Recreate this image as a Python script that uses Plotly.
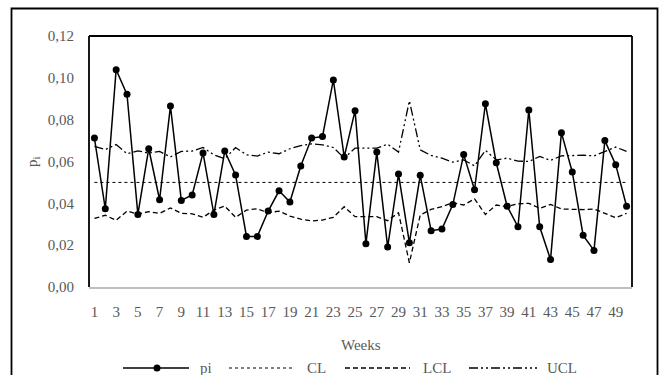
import plotly.graph_objects as go

weeks = list(range(1, 51))
pi = [0.0712, 0.0374, 0.1039, 0.0921, 0.0347, 0.0661, 0.0417, 0.0865, 0.0414, 0.0440,
      0.0641, 0.0347, 0.0650, 0.0535, 0.0242, 0.0242, 0.0363, 0.0460, 0.0406, 0.0578,
      0.0712, 0.0719, 0.0990, 0.0622, 0.0843, 0.0207, 0.0645, 0.0191, 0.0540, 0.0212,
      0.0534, 0.0269, 0.0277, 0.0394, 0.0633, 0.0465, 0.0876, 0.0594, 0.0386, 0.0288,
      0.0846, 0.0288, 0.0131, 0.0738, 0.0550, 0.0247, 0.0175, 0.0700, 0.0585, 0.0386]
cl = [0.05] * 50
lcl = [0.0328, 0.0343, 0.0319, 0.0363, 0.0349, 0.0360, 0.0352, 0.0378, 0.0352, 0.0350,
       0.0333, 0.0368, 0.0387, 0.0333, 0.0368, 0.0374, 0.0355, 0.0363, 0.0339, 0.0324,
       0.0316, 0.0320, 0.0333, 0.0384, 0.0336, 0.0335, 0.0336, 0.0317, 0.0355, 0.0116,
       0.0344, 0.0371, 0.0384, 0.0403, 0.0392, 0.0421, 0.0347, 0.0392, 0.0384, 0.0398,
       0.0400, 0.0376, 0.0395, 0.0373, 0.0370, 0.0370, 0.0373, 0.0352, 0.0331, 0.0352]
ucl = [0.0672, 0.0657, 0.0681, 0.0637, 0.0651, 0.0640, 0.0648, 0.0622, 0.0648, 0.0650,
       0.0667, 0.0632, 0.0613, 0.0667, 0.0632, 0.0626, 0.0645, 0.0637, 0.0661, 0.0676,
       0.0684, 0.0680, 0.0667, 0.0616, 0.0664, 0.0665, 0.0664, 0.0683, 0.0645, 0.0890,
       0.0656, 0.0629, 0.0616, 0.0597, 0.0608, 0.0579, 0.0653, 0.0608, 0.0616, 0.0602,
       0.0600, 0.0624, 0.0605, 0.0627, 0.0630, 0.0630, 0.0627, 0.0648, 0.0669, 0.0648]
x_ticks = list(range(1, 50, 2))
y_ticks = [0, 0.02, 0.04, 0.06, 0.08, 0.10, 0.12]
series_names = ["pi", "CL", "LCL", "UCL"]

FONT = "Liberation Serif, Times New Roman, serif"
GRAY = "#595959"
DASHES = {"pi": "solid", "CL": "dot", "LCL": "5px,3px", "UCL": "9px,3px,2px,3px,2px,3px"}
WIDTHS = {"pi": 1.5, "CL": 1, "LCL": 1.3, "UCL": 1.3}

# plot area in pixels: left 89, right 632, top 36, bottom 287
L, R, T, B = 89, 632, 36, 287
def px(x):
    return (x - L) / (R - L)
def py(y):
    return (B - y) / (B - T)

fig = go.Figure()
fig.add_trace(go.Scatter(x=weeks, y=pi, name="pi", mode="lines+markers",
                         line=dict(color="black", width=WIDTHS["pi"]),
                         marker=dict(color="black", size=7)))
fig.add_trace(go.Scatter(x=weeks, y=cl, name="CL", mode="lines",
                         line=dict(color="black", width=WIDTHS["CL"], dash=DASHES["CL"])))
fig.add_trace(go.Scatter(x=weeks, y=lcl, name="LCL", mode="lines",
                         line=dict(color="black", width=WIDTHS["LCL"], dash=DASHES["LCL"])))
fig.add_trace(go.Scatter(x=weeks, y=ucl, name="UCL", mode="lines",
                         line=dict(color="black", width=WIDTHS["UCL"], dash=DASHES["UCL"])))

frame = dict(type="line", xref="paper", yref="paper", line=dict(color="black", width=1.8), layer="above")
shapes = [
    dict(frame, x0=0, x1=0, y0=0, y1=1),
    dict(frame, x0=0, x1=1, y0=1, y1=1),
    dict(frame, x0=1, x1=1, y0=0, y1=1),
    dict(type="rect", xref="paper", yref="paper",
         x0=px(11.5), x1=px(657.5), y0=py(390), y1=py(8.5),
         line=dict(color="black", width=1.8), layer="below"),
]

# legend drawn manually (long symbol lines as in the reference)
leg_y = py(368)
leg_items = [("pi", 123, 189, 198), ("CL", 229, 295, 305), ("LCL", 345, 410, 421), ("UCL", 469, 537, 545)]
annotations = []
for name, x0, x1, tx in leg_items:
    shapes.append(dict(type="line", xref="paper", yref="paper", x0=px(x0), x1=px(x1),
                       y0=leg_y, y1=leg_y,
                       line=dict(color="black", width=WIDTHS[name], dash=DASHES[name])))
    annotations.append(dict(text=name, xref="paper", yref="paper", x=px(tx), y=leg_y,
                            xanchor="left", yanchor="middle", showarrow=False,
                            font=dict(family=FONT, size=15, color=GRAY)))
shapes.append(dict(type="circle", xref="paper", yref="paper", xsizemode="pixel", ysizemode="pixel",
                   xanchor=px(157), yanchor=leg_y, x0=-3.5, x1=3.5, y0=-3.5, y1=3.5,
                   fillcolor="black", line=dict(color="black", width=0)))

annotations.append(dict(text="Weeks", xref="paper", yref="paper", x=0.5, y=py(345),
                        xanchor="center", yanchor="middle", showarrow=False,
                        font=dict(family=FONT, size=15, color=GRAY)))
annotations.append(dict(text="p<sub>i</sub>", xref="paper", yref="paper", x=px(33), y=py(162),
                        xanchor="center", yanchor="middle", showarrow=False, textangle=-90,
                        font=dict(family=FONT, size=15, color=GRAY)))

fig.update_layout(
    width=660, height=375,
    margin=dict(l=L, r=660 - R, t=T, b=375 - B, autoexpand=False),
    paper_bgcolor="white", plot_bgcolor="white",
    separators=",.",
    font=dict(family=FONT, size=15, color=GRAY),
    showlegend=False,
    shapes=shapes,
    annotations=annotations,
    xaxis=dict(range=[0.5, 50.5], tickmode="array", tickvals=x_ticks,
               ticktext=[str(t) for t in x_ticks], showgrid=False, zeroline=False,
               showline=True, linecolor="#bfbfbf", linewidth=2, ticks="",
               ticklabelstandoff=10, automargin=False,
               tickfont=dict(family=FONT, size=15, color=GRAY)),
    yaxis=dict(range=[0, 0.12], tickmode="array", tickvals=y_ticks, tickformat=".2f",
               showgrid=False, zeroline=False, showline=False, ticks="",
               ticklabelstandoff=14, automargin=False,
               tickfont=dict(family=FONT, size=15, color=GRAY)),
)

fig.write_html("out.html", config={"displayModeBar": False},
               post_script="document.body.style.margin='0';document.body.style.overflow='hidden';")
